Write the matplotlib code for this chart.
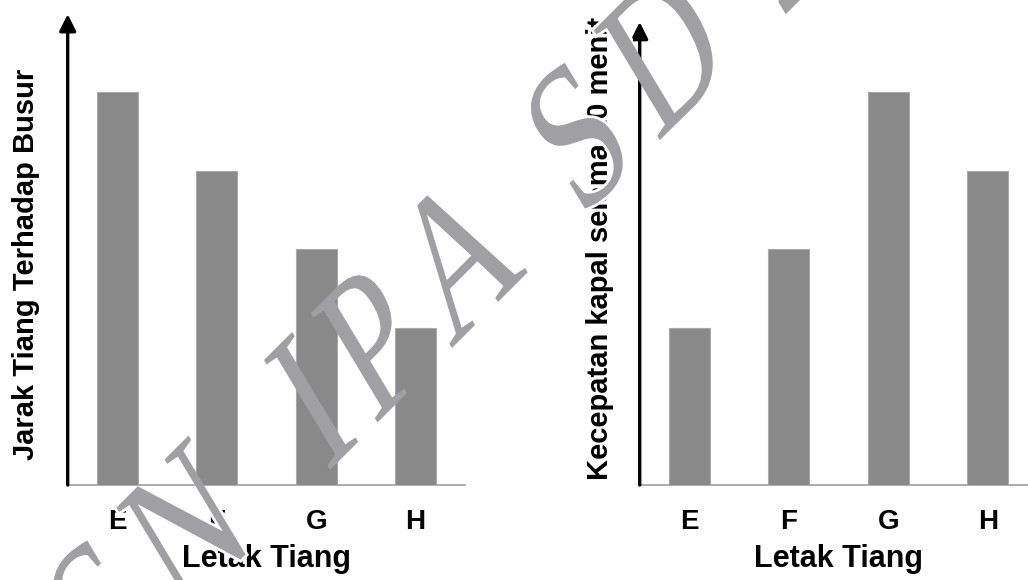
import matplotlib
matplotlib.use('Agg')
import matplotlib.pyplot as plt
from matplotlib.textpath import TextPath, text_to_path
from matplotlib.font_manager import FontProperties
from matplotlib.patches import PathPatch
from matplotlib.transforms import Affine2D
from matplotlib.path import Path

# ---------------- data ----------------
categories = ['E', 'F', 'G', 'H']
jarak_values = [5, 4, 3, 2]          # left chart
kecepatan_values = [2, 3, 5, 4]      # right chart
xlabel_text = 'Letak Tiang'
ylabel_left = 'Jarak Tiang Terhadap Busur'
ylabel_right = 'Kecepatan kapal selama 10 menit'
watermark_words = ['OSN', 'IPA', 'SD', '2019']

W, H = 1028, 580
plt.rcParams['font.family'] = ['Liberation Sans', 'DejaVu Sans']
fig = plt.figure(figsize=(W / 100, H / 100), dpi=100)
fig.patch.set_facecolor('white')

BAR_COLOR = '#898989'
BAR_EDGE = '#a8a8a8'


def px_axes(x0, x1, ybot, ytop):
    return fig.add_axes([x0 / W, (H - ybot) / H, (x1 - x0) / W, (ybot - ytop) / H])


def style_chart(ax, values, ylabel, arrow_top, ylab_x, ylab_y):
    x = range(len(categories))
    ax.bar(x, values, width=0.413, color=BAR_COLOR, edgecolor=BAR_EDGE,
           linewidth=0.8, zorder=2)
    ax.set_xlim(-0.5, 3.5)
    ax.set_ylim(0, 6)
    for s in ax.spines.values():
        s.set_visible(False)
    ax.set_yticks([])
    ax.set_xticks(list(x), categories)
    ax.tick_params(axis='x', length=0, pad=17.6, labelsize=20)
    for lbl in ax.get_xticklabels():
        lbl.set_fontweight('bold')
    ax.axhline(0, color='#a6a6a6', lw=1.3, zorder=1, clip_on=False)
    ax.annotate('', xy=(-0.5, arrow_top), xytext=(-0.5, 0),
                xycoords='data', annotation_clip=False,
                arrowprops=dict(arrowstyle='-|>,head_length=1.0,head_width=0.5',
                                color='black', lw=2.4, mutation_scale=10,
                                shrinkA=0, shrinkB=0), zorder=3)
    ax.set_xlabel(xlabel_text, fontsize=22, fontweight='bold')
    ax.xaxis.label.set_va('top')
    ax.xaxis.set_label_coords(0.5, (H - 544 - 95) / 471.6)
    ax.set_ylabel(ylabel, fontsize=21, fontweight='bold')
    ax.yaxis.label.set_rotation_mode('anchor')
    ax.yaxis.label.set_va('baseline')
    ax.yaxis.label.set_ha('center')
    ax.yaxis.set_label_coords(ylab_x, ylab_y)
    ax.set_facecolor('none')


axL = px_axes(67.7, 465.3, 485, 13.4)
axR = px_axes(639.7, 1037.7, 485, 13.4)

style_chart(axL, jarak_values, ylabel_left, 5.99,
            (34.2 - 67.7) / 397.6, (H - 264.5 - 95) / 471.6)
style_chart(axR, kecepatan_values, ylabel_right, 5.89,
            (608.3 - 639.7) / 398.0, (H - 248 - 95) / 471.6)

# ---------------- watermark ----------------
pix2fig = Affine2D().scale(1 / W, 1 / H) + fig.transFigure
T = Affine2D().skew_deg(14, 0).scale(190).rotate_deg(45).translate(19.4, -200.6)
trans = T + pix2fig
wm_font = FontProperties(family='Liberation Serif', size=1)
word_starts = [-0.16, 2.25, 4.117, 5.62]   # em offsets along the baseline
GLYPH_SQUEEZE = 0.8                         # narrower, lighter letters

paths = []
for word, x0 in zip(watermark_words, word_starts):
    for i, ch in enumerate(word):
        adv = text_to_path.get_text_width_height_descent(word[:i], wm_font, False)[0] if i else 0.0
        gp = TextPath((x0 + adv, 0), ch, size=1, prop=wm_font)
        ext = gp.get_extents()
        cx = 0.5 * (ext.x0 + ext.x1)
        v = gp.vertices.copy()
        v[:, 0] = cx + GLYPH_SQUEEZE * (v[:, 0] - cx)
        paths.append(Path(v, gp.codes))
wm_path = Path.make_compound_path(*paths)

# white halo only over label regions (outside the plotting areas)
def rect(x0, y0, x1, y1):  # image coords (y down) -> display px (y up)
    return [(x0, H - y0), (x1, H - y0), (x1, H - y1), (x0, H - y1), (x0, H - y0)]

verts, codes = [], []
for r in [rect(0, 488, W, H), rect(560, 0, 633, 488), rect(0, 0, 62, 488)]:
    verts += r
    codes += [Path.MOVETO, Path.LINETO, Path.LINETO, Path.LINETO, Path.CLOSEPOLY]
clip = Path(verts, codes)

halo = PathPatch(wm_path, transform=trans, facecolor='white', edgecolor='white',
                 lw=4, zorder=20)
fig.add_artist(halo)
halo.set_clip_path(clip, pix2fig)

fill = PathPatch(wm_path, transform=trans, facecolor='#a0a0a4', edgecolor='none',
                 zorder=21)
fig.add_artist(fill)

fig.savefig('out.png', dpi=100, facecolor='white')
